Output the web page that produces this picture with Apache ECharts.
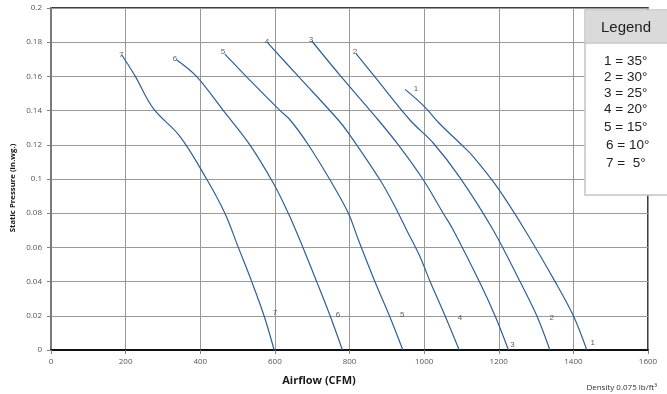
<!DOCTYPE html>
<html><head><meta charset="utf-8">
<script src="https://cdn.jsdelivr.net/npm/echarts@6/dist/echarts.min.js"></script>
<style>html,body{margin:0;padding:0;background:#fff}#c{width:667px;height:394px}</style>
</head><body><div id="c"></div>
<script>
// ---- data ----
const curveNames = ['1', '2', '3', '4', '5', '6', '7'];
const legendEntries = ['1 = 35°', '2 = 30°', '3 = 25°', '4 = 20°', '5 = 15°', '6 = 10°', '7 =  5°'];

const airflow1 = [949, 1000, 1043, 1096, 1132, 1195, 1270, 1351, 1400, 1436];
const pressure1 = [0.1524, 0.1425, 0.132, 0.1209, 0.113, 0.0955, 0.0702, 0.040, 0.020, 0];

const airflow2 = [817, 867, 962, 1025, 1096, 1185, 1257, 1302, 1337];
const pressure2 = [0.1735, 0.160, 0.1345, 0.1209, 0.1008, 0.0702, 0.040, 0.020, 0];

const airflow3 = [699, 777, 877, 931, 998, 1051, 1078, 1148, 1190, 1226];
const pressure3 = [0.1807, 0.160, 0.1345, 0.1199, 0.0994, 0.080, 0.0702, 0.040, 0.020, 0];

const airflow4 = [582, 663, 770, 801, 882, 922, 953, 989, 1016, 1056, 1094];
const pressure4 = [0.1793, 0.160, 0.1345, 0.1257, 0.0994, 0.0838, 0.0702, 0.0546, 0.040, 0.020, 0];

const airflow5 = [466, 523, 614, 641, 690, 748, 797, 824, 868, 907, 943];
const pressure5 = [0.173, 0.160, 0.140, 0.1345, 0.1199, 0.0994, 0.080, 0.0643, 0.040, 0.020, 0];

const airflow6 = [337, 390, 462, 533, 596, 636, 667, 712, 748, 781];
const pressure6 = [0.1696, 0.160, 0.140, 0.120, 0.0975, 0.080, 0.0643, 0.040, 0.020, 0];

const airflow7 = [190, 226, 274, 346, 417, 466, 502, 538, 571, 598];
const pressure7 = [0.1725, 0.160, 0.1413, 0.1248, 0.100, 0.080, 0.060, 0.040, 0.020, 0];

// curve number annotations (start and end of each curve), in data units
const startLabelX = [978, 815, 697, 579, 461, 332, 188];
const startLabelY = [0.153, 0.1743, 0.1813, 0.180, 0.1743, 0.1702, 0.1725];
const endLabelX = [1452, 1342, 1237, 1096, 941, 769, 600];
const endLabelY = [0.0045, 0.019, 0.0033, 0.019, 0.0205, 0.0205, 0.0216];

const xMin = 0, xMax = 1600, xStep = 200;
const yMin = 0, yMax = 0.2, yStep = 0.02;

const xTitle = 'Airflow (CFM)';
const yTitle = 'Static Pressure (in.wg.)';
const densityNote = 'Density 0.075 lb/ft³';
const legendTitle = 'Legend';

// ---- build ----
const airflows = [airflow1, airflow2, airflow3, airflow4, airflow5, airflow6, airflow7];
const pressures = [pressure1, pressure2, pressure3, pressure4, pressure5, pressure6, pressure7];

const series = curveNames.map((n, i) => ({
  type: 'line',
  name: n,
  data: airflows[i].map((x, k) => [x, pressures[i][k]]),
  smooth: 0.35,
  showSymbol: false,
  symbol: 'none',
  lineStyle: { color: '#2f5f97', width: 1.2 },
  z: 3
}));

const labelData = [];
curveNames.forEach((n, i) => {
  labelData.push({ value: [startLabelX[i], startLabelY[i]], name: n });
  labelData.push({ value: [endLabelX[i], endLabelY[i]], name: n });
});
series.push({
  type: 'scatter',
  data: labelData,
  symbolSize: 0,
  silent: true,
  label: {
    show: true,
    position: 'inside',
    formatter: p => p.name,
    fontFamily: 'Liberation Sans',
    fontSize: 8,
    color: '#333'
  },
  z: 4
});

const legendX = 585, legendY = 10, legendW = 90, legendH = 185, headH = 33;
const entryYs = [61, 77, 93, 109, 127, 145, 163];
const graphics = [
  { type: 'rect', shape: { x: legendX, y: legendY, width: legendW, height: legendH },
    style: { fill: '#fff', stroke: '#c4c4c4', lineWidth: 1.5 }, z: 10 },
  { type: 'rect', shape: { x: legendX + 0.75, y: legendY + 0.75, width: legendW, height: headH },
    style: { fill: '#dadada' }, z: 11 },
  { type: 'line', shape: { x1: legendX, y1: legendY + headH, x2: legendX + legendW, y2: legendY + headH },
    style: { stroke: '#c4c4c4', lineWidth: 1 }, z: 12 },
  { type: 'text', x: 626, y: legendY + headH / 2 + 1, z: 12,
    style: { text: legendTitle, font: '15px "Liberation Sans"', fill: '#222', textAlign: 'center', textVerticalAlign: 'middle' } },
  { type: 'text', x: 319, y: 381, z: 12,
    style: { text: xTitle, font: 'bold 11px "Open Sans"', fill: '#1a1a1a', textAlign: 'center', textVerticalAlign: 'middle' } },
  { type: 'text', x: 13, y: 188, rotation: Math.PI / 2, z: 12,
    style: { text: yTitle, font: 'bold 7.8px "Open Sans"', fill: '#1a1a1a', textAlign: 'center', textVerticalAlign: 'middle' } },
  { type: 'text', x: 657, y: 388, z: 12,
    style: { text: densityNote, font: '8px "Open Sans"', fill: '#333', textAlign: 'right', textVerticalAlign: 'middle' } }
];
legendEntries.forEach((t, i) => {
  graphics.push({ type: 'text', x: i >= 5 ? 606 : 604, y: entryYs[i], z: 12,
    style: { text: t, font: '13.5px "Liberation Sans"', fill: '#222', textAlign: 'left', textVerticalAlign: 'middle' } });
});

const chart = echarts.init(document.getElementById('c'), null, { renderer: 'canvas' });
chart.setOption({
  animation: false,
  backgroundColor: '#fff',
  grid: { left: 51, right: 19, top: 8, bottom: 44, show: true, borderColor: '#000', borderWidth: 1.5, backgroundColor: 'transparent' },
  xAxis: {
    type: 'value', min: xMin, max: xMax, interval: xStep,
    axisLine: { show: true, onZero: false, lineStyle: { color: '#111', width: 2 } },
    axisTick: { show: true, inside: false, length: 4, lineStyle: { color: '#808080' } },
    axisLabel: { margin: 8, fontFamily: 'Open Sans', fontSize: 8, color: '#555', formatter: v => String(v) },
    splitLine: { show: true, lineStyle: { color: '#9a9a9a', width: 1 } }
  },
  yAxis: {
    type: 'value', min: yMin, max: yMax, interval: yStep,
    axisLine: { show: true, onZero: false, lineStyle: { color: '#7a7a7a', width: 2 } },
    axisTick: { show: true, inside: false, length: 4, lineStyle: { color: '#808080' } },
    axisLabel: { margin: 9, fontFamily: 'Open Sans', fontSize: 8, color: '#555',
      formatter: v => String(+v.toFixed(2)) },
    splitLine: { show: true, lineStyle: { color: '#9a9a9a', width: 1 } }
  },
  series: series,
  graphic: graphics
});
</script>
</body></html>
